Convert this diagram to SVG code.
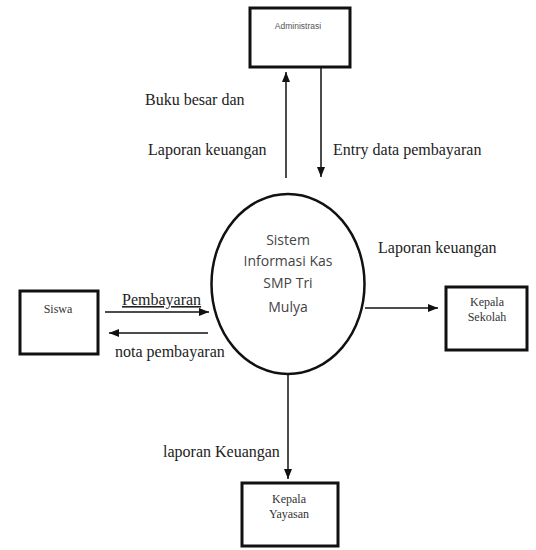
<svg xmlns="http://www.w3.org/2000/svg" width="536" height="550" viewBox="0 0 536 550">
<defs>
<marker id="ah" markerUnits="userSpaceOnUse" markerWidth="10" markerHeight="8" refX="10" refY="4" orient="auto">
<path d="M0,0 L10,4 L0,8 z" fill="#111"/>
</marker>
<style>
.box{fill:#fff;stroke:#111;stroke-width:3}
.proc{fill:#fff;stroke:#111;stroke-width:2.5}
.flow{fill:none;stroke:#111;stroke-width:1.5;marker-end:url(#ah)}
.lbl{font-family:"Liberation Serif","Times New Roman",serif;font-size:16px;fill:#222}
.ent{font-family:"Liberation Serif","Times New Roman",serif;font-size:12px;fill:#333;text-anchor:middle}
.adm{font-family:"Liberation Sans",Arial,sans-serif;font-size:8.5px;fill:#555;text-anchor:middle}
.sys{font-family:"Open Sans","Liberation Sans",sans-serif;font-size:14px;fill:#444;text-anchor:middle}
</style>
</defs>
<rect width="536" height="550" fill="#fff"/>
<g id="connectors">
<line class="flow" x1="286" y1="178" x2="286" y2="72"/>
<line class="flow" x1="321" y1="68" x2="321" y2="177"/>
<line class="flow" x1="105" y1="312" x2="209" y2="312"/>
<line class="flow" x1="208" y1="333" x2="109" y2="333"/>
<line class="flow" x1="365" y1="308" x2="438" y2="308"/>
<line class="flow" x1="288" y1="374" x2="288" y2="479"/>
<text class="lbl" x="145" y="105">Buku besar dan</text>
<text class="lbl" x="148" y="155">Laporan keuangan</text>
<text class="lbl" x="333" y="155">Entry data pembayaran</text>
<text class="lbl" x="122" y="305" text-decoration="underline">Pembayaran</text>
<text class="lbl" x="115" y="357">nota pembayaran</text>
<text class="lbl" x="378" y="253">Laporan keuangan</text>
<text class="lbl" x="163" y="457">laporan Keuangan</text>
</g>
<g id="administrasi">
<rect class="box" x="250" y="8" width="100" height="59"/>
<text class="adm" x="298" y="29">Administrasi</text>
</g>
<g id="sistem">
<ellipse class="proc" cx="288" cy="284" rx="76.5" ry="90"/>
<text class="sys" x="288" y="245">Sistem</text>
<text class="sys" x="288" y="266">Informasi Kas</text>
<text class="sys" x="288" y="288">SMP Tri</text>
<text class="sys" x="288" y="312">Mulya</text>
</g>
<g id="siswa">
<rect class="box" x="20" y="291" width="78" height="63"/>
<text class="ent" x="58" y="313">Siswa</text>
</g>
<g id="kepala-sekolah">
<rect class="box" x="446" y="287" width="81" height="63"/>
<text class="ent" x="487" y="306">Kepala</text>
<text class="ent" x="487" y="321">Sekolah</text>
</g>
<g id="kepala-yayasan">
<rect class="box" x="242" y="483" width="96" height="63"/>
<text class="ent" x="289" y="503">Kepala</text>
<text class="ent" x="289" y="518">Yayasan</text>
</g>
</svg>
